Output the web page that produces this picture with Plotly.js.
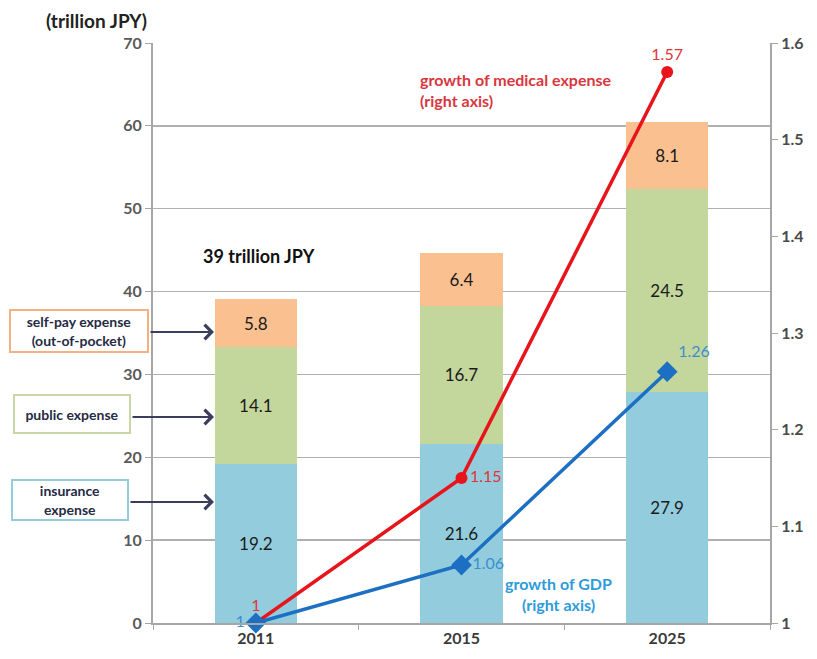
<!DOCTYPE html>
<html><head><meta charset="utf-8">
<script src="https://cdn.plot.ly/plotly-3.0.1.min.js"></script>
<style>html,body{margin:0;padding:0;background:#fff}#chart{width:817px;height:659px}</style>
</head><body><div id="chart"></div>
<script>
const years = ['2011', '2015', '2025'];
const insurance = [19.2, 21.6, 27.9];
const publicExp = [14.1, 16.7, 24.5];
const selfPay = [5.8, 6.4, 8.1];
const medGrowth = [1, 1.15, 1.57];
const gdpGrowth = [1, 1.06, 1.26];

const F = 'Lato, "Open Sans", sans-serif';
const txt = {family: F, size: 17, color: '#1b1b1b'};

const traces = [
  {type:'bar', name:'insurance expense', x:years, y:insurance, width:0.4,
   marker:{color:'#93CDDD'}, text:insurance.map(v=>v.toFixed(1)), textposition:'inside',
   insidetextanchor:'middle', textfont:txt, hoverinfo:'none'},
  {type:'bar', name:'public expense', x:years, y:publicExp, width:0.4,
   marker:{color:'#C3D69B'}, text:publicExp.map(v=>v.toFixed(1)), textposition:'inside',
   insidetextanchor:'middle', textfont:txt, hoverinfo:'none'},
  {type:'bar', name:'self-pay expense', x:years, y:selfPay, width:0.4,
   marker:{color:'#FAC090'}, text:selfPay.map(v=>v.toFixed(1)), textposition:'inside',
   insidetextanchor:'middle', textfont:txt, hoverinfo:'none'},
  {type:'scatter', mode:'lines+markers+text', name:'growth of medical expense', x:years, y:medGrowth, yaxis:'y2',
   line:{color:'#E8141C', width:3.5}, marker:{symbol:'circle', size:12, color:'#E8141C'},
   text:medGrowth.map(String), textposition:['top center','middle right','top center'],
   textfont:{family:F, size:16, color:'#E0353B'}, cliponaxis:false},
  {type:'scatter', mode:'lines+markers+text', name:'growth of GDP', x:years, y:gdpGrowth, yaxis:'y2',
   line:{color:'#1C6FC2', width:3.5}, marker:{symbol:'diamond', size:16, color:'#1C6FC2'},
   text:gdpGrowth.map(String), textposition:['middle left','middle right','top right'],
   textfont:{family:F, size:16, color:'#3A8FD0'}, cliponaxis:false}
];

const px = x => (x-153)/617, py = y => (623-y)/580;
const boxFont = {family:F, size:14, color:'#262a44'};
const tf = c => ({family:F, size:16, color:c, weight:'bold'});

const layout = {
  width:817, height:659, showlegend:false, barmode:'stack',
  paper_bgcolor:'#fff', plot_bgcolor:'#fff',
  margin:{l:153, r:47, t:43, b:36},
  font:{family:F, size:14, color:'#404040'},
  xaxis:{type:'category', showgrid:false, showline:true, linecolor:'#a6a6a6', linewidth:2,
         ticks:'outside', tickson:'boundaries', ticklen:5, tickcolor:'#a6a6a6',
         tickfont:tf('#3a3a3a')},
  yaxis:{range:[0,70], dtick:10, showgrid:true, gridcolor:'#b0b0b0', gridwidth:1.5,
         showline:true, linecolor:'#a6a6a6', linewidth:2, ticks:'outside', ticklen:6, tickcolor:'#a6a6a6',
         tickfont:tf('#595959'), zeroline:false},
  yaxis2:{range:[1,1.6], dtick:0.1, overlaying:'y', side:'right', showgrid:false,
          showline:true, linecolor:'#a6a6a6', linewidth:2, ticks:'outside', ticklen:6, tickcolor:'#a6a6a6',
          tickfont:tf('#4a4a4a'), zeroline:false},
  annotations:[
    {xref:'paper', yref:'paper', x:px(96), y:py(20), xanchor:'center', yanchor:'middle',
     text:'<b>(trillion JPY)</b>', showarrow:false, font:{family:F, size:19, color:'#222'}},
    {xref:'paper', yref:'paper', x:px(259), y:py(256), xanchor:'center', yanchor:'middle',
     text:'<b>39 trillion JPY</b>', showarrow:false, font:{family:F, size:18, color:'#111'}},
    {xref:'paper', yref:'paper', x:px(418), y:py(68), xanchor:'left', yanchor:'top', align:'left',
     text:'<b>growth of medical expense<br>(right axis)</b>', showarrow:false,
     font:{family:F, size:16, color:'#D9363E'}},
    {xref:'paper', yref:'paper', x:px(558), y:py(594), xanchor:'center', yanchor:'middle',
     text:'<b>growth of GDP<br>(right axis)</b>', showarrow:false,
     font:{family:F, size:16, color:'#2E9BDA'}},
    // legend boxes
    {xref:'paper', yref:'paper', x:px(79), y:py(331), xanchor:'center', yanchor:'middle', width:134, height:38,
     text:'<b>self-pay expense<br>(out-of-pocket)</b>', showarrow:false, bgcolor:'#fff',
     bordercolor:'#F4B183', borderwidth:2, font:boxFont},
    {xref:'paper', yref:'paper', x:px(72), y:py(414), xanchor:'center', yanchor:'middle', width:112, height:34,
     text:'<b>public expense</b>', showarrow:false, bgcolor:'#fff',
     bordercolor:'#C9D7A8', borderwidth:2, font:boxFont},
    {xref:'paper', yref:'paper', x:px(70), y:py(500), xanchor:'center', yanchor:'middle', width:112, height:36,
     text:'<b>insurance<br>expense</b>', showarrow:false, bgcolor:'#fff',
     bordercolor:'#93CDDD', borderwidth:2, font:boxFont},
    // arrows
    {xref:'paper', yref:'paper', x:px(214), y:py(332), ax:-65, ay:0, text:'', showarrow:true,
     arrowhead:4, arrowsize:1.4, arrowwidth:2, arrowcolor:'#3a3d5c'},
    {xref:'paper', yref:'paper', x:px(214), y:py(417), ax:-83, ay:0, text:'', showarrow:true,
     arrowhead:4, arrowsize:1.4, arrowwidth:2, arrowcolor:'#3a3d5c'},
    {xref:'paper', yref:'paper', x:px(214), y:py(502), ax:-85, ay:0, text:'', showarrow:true,
     arrowhead:4, arrowsize:1.4, arrowwidth:2, arrowcolor:'#3a3d5c'}
  ]
};

Plotly.newPlot('chart', traces, layout, {displayModeBar:false, staticPlot:true});
</script></body></html>
